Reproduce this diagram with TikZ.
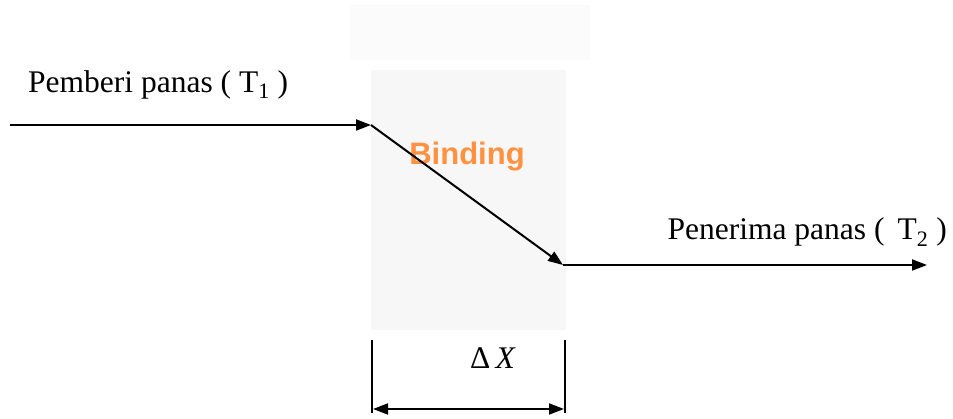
\documentclass[tikz,border=0pt]{standalone}
\usepackage{fontspec}
\setmainfont{Liberation Serif}
\newfontfamily\wmfont{Liberation Sans}
\usetikzlibrary{arrows.meta}
\tikzset{
  tip/.style={Triangle[length=15pt,width=11pt]},
  flow/.style={line width=2pt,-{Triangle[length=15pt,width=11pt]}},
  lbl/.style={font=\fontsize{31.5}{34}\selectfont, inner sep=0pt},
  dimline/.style={line width=2pt},
}
\begin{document}
\begin{tikzpicture}[x=1pt,y=-1pt]
\useasboundingbox (0,0) rectangle (953,419);
% faint wall
\fill[gray!3] (350,5) rectangle (590,60);
\fill[gray!6] (371,70) rectangle (566,330);
\node[font=\wmfont\bfseries\fontsize{31}{34}\selectfont, text=orange!85!red!75, inner sep=0pt] (wm) at (467,157) {Binding};
% points
\coordinate (a0) at (10,125);
\coordinate (a1) at (371,125);
\coordinate (b0) at (563,265);
\coordinate (b1) at (927,265);
\draw[flow] (a0) -- (a1);
\draw[flow] (a1) -- (b0);
\draw[flow] (b0) -- (b1);
\node[lbl, anchor=base west] (t1) at (28,93) {Pemberi panas ( T\textsubscript{1} )};
\node[lbl, anchor=base east] (t2) at (947,240) {Penerima panas ( \,T\textsubscript{2} )};
% dimension
\coordinate (d1) at (372,340);
\coordinate (d2) at (565,340);
\coordinate (d1b) at (372,413);
\coordinate (d2b) at (565,413);
\draw[dimline] (d1) -- (d1b);
\draw[dimline] (d2) -- (d2b);
\draw[line width=2pt,{Triangle[length=15pt,width=11pt]}-{Triangle[length=15pt,width=11pt]}] (373,409) -- (564,409);
\node[lbl, anchor=base] (dx) at (493,369) {Δ\,\textit{X}};
\end{tikzpicture}
\end{document}
